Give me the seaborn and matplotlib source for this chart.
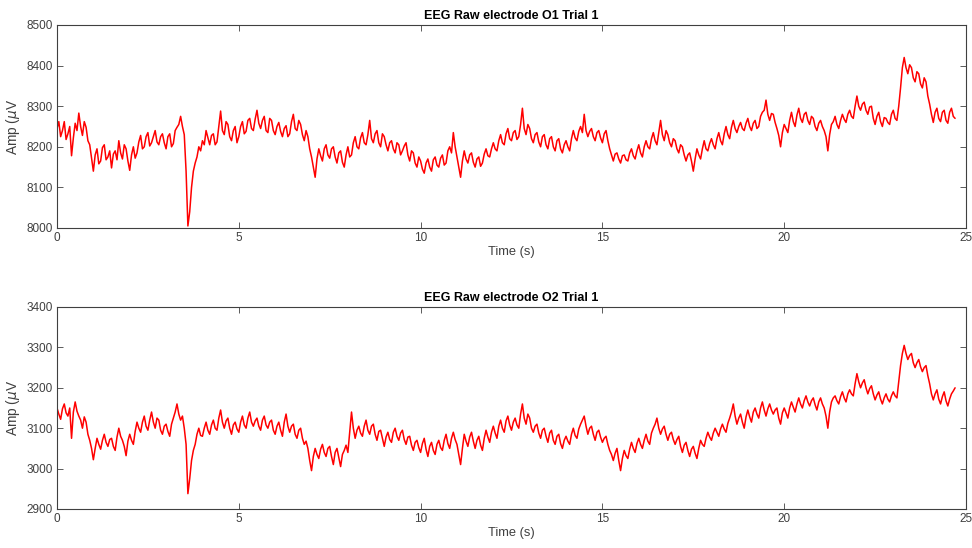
import numpy as np
import pandas as pd
import matplotlib
matplotlib.use("Agg")
import matplotlib.pyplot as plt
import seaborn as sns

# Time axes (s): samples on the 0.1 s grid and samples half-way between them
time_s = [round(i * 0.1, 1) for i in range(248)]
time_mid_s = [round(i * 0.1 + 0.05, 2) for i in range(247)]

# Electrode O1 amplitude (uV) on the 0.1 s grid
o1_amp = [
    8245, 8225, 8262, 8232, 8178, 8258, 8283, 8228, 8248, 8205,
    8140, 8195, 8165, 8205, 8175, 8148, 8190, 8215, 8170, 8195,
    8142, 8200, 8185, 8228, 8200, 8235, 8210, 8240, 8205, 8232,
    8195, 8232, 8208, 8248, 8275, 8230, 8005, 8100, 8160, 8200,
    8215, 8240, 8205, 8232, 8212, 8288, 8230, 8255, 8215, 8250,
    8225, 8262, 8238, 8270, 8240, 8290, 8245, 8275, 8235, 8265,
    8230, 8260, 8225, 8252, 8232, 8280, 8240, 8255, 8215, 8225,
    8175, 8125, 8195, 8165, 8205, 8172, 8200, 8160, 8190, 8150,
    8200, 8180, 8225, 8195, 8235, 8205, 8265, 8210, 8240, 8200,
    8225, 8190, 8215, 8185, 8205, 8190, 8210, 8165, 8185, 8150,
    8165, 8135, 8170, 8140, 8175, 8150, 8180, 8160, 8200, 8235,
    8175, 8125, 8190, 8160, 8185, 8150, 8175, 8160, 8195, 8175,
    8210, 8190, 8230, 8205, 8245, 8215, 8240, 8225, 8295, 8230,
    8245, 8210, 8235, 8200, 8230, 8195, 8225, 8190, 8220, 8185,
    8215, 8190, 8240, 8215, 8250, 8280, 8225, 8245, 8215, 8240,
    8210, 8240, 8195, 8165, 8185, 8160, 8180, 8165, 8195, 8170,
    8205, 8175, 8215, 8195, 8235, 8205, 8265, 8215, 8230, 8200,
    8215, 8185, 8200, 8165, 8185, 8140, 8195, 8170, 8215, 8190,
    8220, 8195, 8235, 8205, 8250, 8220, 8265, 8235, 8260, 8240,
    8270, 8240, 8265, 8250, 8285, 8315, 8265, 8280, 8245, 8200,
    8255, 8235, 8285, 8250, 8295, 8260, 8285, 8255, 8270, 8240,
    8265, 8240, 8190, 8255, 8275, 8245, 8280, 8260, 8290, 8270,
    8325, 8290, 8310, 8280, 8300, 8255, 8285, 8250, 8270, 8255,
    8290, 8265, 8345, 8420, 8380, 8395, 8360, 8380, 8345, 8360,
    8305, 8260, 8295, 8262, 8290, 8258, 8295, 8270,
]

# Electrode O1 amplitude (uV) half-way between grid samples
o1_amp_mid = [
    8262, 8240, 8218, 8250, 8222, 8240, 8250, 8262, 8215, 8172,
    8180, 8158, 8198, 8168, 8190, 8182, 8168, 8185, 8205, 8165,
    8180, 8172, 8212, 8195, 8225, 8202, 8225, 8212, 8225, 8210,
    8225, 8200, 8240, 8255, 8250, 8140, 8040, 8140, 8175, 8190,
    8205, 8222, 8228, 8205, 8250, 8240, 8262, 8225, 8240, 8210,
    8250, 8232, 8265, 8245, 8268, 8258, 8265, 8240, 8270, 8240,
    8250, 8238, 8245, 8225, 8262, 8245, 8265, 8230, 8240, 8195,
    8150, 8170, 8178, 8195, 8180, 8195, 8175, 8185, 8162, 8180,
    8175, 8210, 8200, 8222, 8210, 8230, 8220, 8232, 8210, 8232,
    8205, 8210, 8195, 8210, 8180, 8202, 8180, 8190, 8160, 8175,
    8145, 8160, 8150, 8168, 8155, 8172, 8155, 8190, 8185, 8200,
    8150, 8165, 8170, 8180, 8162, 8170, 8152, 8182, 8178, 8195,
    8195, 8215, 8210, 8232, 8220, 8235, 8218, 8255, 8245, 8255,
    8220, 8230, 8212, 8225, 8205, 8220, 8200, 8215, 8195, 8205,
    8200, 8220, 8222, 8238, 8235, 8240, 8238, 8225, 8235, 8222,
    8232, 8215, 8180, 8182, 8170, 8178, 8168, 8185, 8178, 8190,
    8185, 8200, 8200, 8220, 8215, 8235, 8230, 8240, 8210, 8220,
    8195, 8205, 8180, 8180, 8165, 8170, 8180, 8195, 8195, 8208,
    8205, 8220, 8215, 8232, 8230, 8248, 8245, 8250, 8245, 8258,
    8250, 8258, 8245, 8275, 8290, 8280, 8282, 8260, 8228, 8235,
    8245, 8265, 8262, 8278, 8270, 8280, 8265, 8275, 8250, 8258,
    8250, 8225, 8230, 8262, 8255, 8265, 8268, 8280, 8275, 8300,
    8300, 8305, 8290, 8298, 8270, 8275, 8262, 8272, 8260, 8280,
    8270, 8300, 8395, 8395, 8402, 8370, 8385, 8355, 8370, 8325,
    8280, 8285, 8270, 8285, 8265, 8285, 8275,
]

# Electrode O2 amplitude (uV) on the 0.1 s grid
o2_amp = [
    3150, 3122, 3160, 3130, 3075, 3165, 3130, 3100, 3115, 3070,
    3022, 3075, 3048, 3085, 3055, 3075, 3045, 3100, 3070, 3032,
    3085, 3060, 3115, 3090, 3130, 3095, 3140, 3100, 3120, 3085,
    3110, 3080, 3125, 3160, 3120, 3100, 2938, 3020, 3060, 3100,
    3080, 3115, 3085, 3120, 3095, 3145, 3100, 3125, 3085, 3115,
    3090, 3130, 3100, 3140, 3105, 3125, 3095, 3130, 3100, 3120,
    3085, 3115, 3080, 3135, 3090, 3110, 3075, 3100, 3060, 3050,
    2995, 3050, 3025, 3060, 3030, 3055, 3010, 3050, 3005, 3045,
    3040, 3140, 3075, 3105, 3080, 3120, 3085, 3110, 3070, 3095,
    3055, 3090, 3065, 3100, 3070, 3095, 3060, 3080, 3045, 3070,
    3040, 3075, 3030, 3065, 3035, 3070, 3045, 3085, 3050, 3090,
    3060, 3010, 3085, 3055, 3090, 3050, 3080, 3045, 3095, 3065,
    3105, 3075, 3120, 3090, 3130, 3095, 3125, 3100, 3160, 3110,
    3125, 3090, 3110, 3075, 3100, 3065, 3095, 3060, 3085, 3050,
    3080, 3060, 3100, 3075, 3110, 3130, 3085, 3105, 3070, 3095,
    3065, 3080, 3045, 3020, 3050, 2995, 3045, 3025, 3065, 3040,
    3075, 3050, 3085, 3060, 3100, 3125, 3085, 3105, 3070, 3090,
    3060, 3080, 3040, 3065, 3030, 3055, 3025, 3070, 3055, 3090,
    3070, 3100, 3080, 3110, 3090, 3125, 3160, 3110, 3135, 3100,
    3145, 3115, 3150, 3125, 3165, 3130, 3160, 3135, 3150, 3110,
    3150, 3125, 3165, 3140, 3175, 3150, 3180, 3155, 3175, 3145,
    3175, 3150, 3100, 3165, 3180, 3160, 3190, 3165, 3195, 3180,
    3235, 3200, 3220, 3185, 3205, 3170, 3190, 3160, 3185, 3165,
    3190, 3175, 3255, 3305, 3270, 3285, 3250, 3270, 3240, 3255,
    3210, 3170, 3195, 3160, 3190, 3155, 3185, 3200,
]

# Electrode O2 amplitude (uV) half-way between grid samples
o2_amp_mid = [
    3135, 3148, 3138, 3150, 3140, 3142, 3120, 3128, 3085, 3050,
    3050, 3060, 3070, 3065, 3072, 3055, 3078, 3080, 3055, 3068,
    3070, 3092, 3100, 3115, 3105, 3120, 3115, 3125, 3095, 3105,
    3092, 3110, 3140, 3135, 3130, 3060, 2975, 3045, 3085, 3082,
    3100, 3095, 3108, 3100, 3125, 3115, 3118, 3100, 3108, 3098,
    3115, 3108, 3125, 3115, 3118, 3105, 3120, 3108, 3115, 3095,
    3105, 3095, 3115, 3105, 3105, 3085, 3095, 3075, 3068, 3020,
    3030, 3035, 3048, 3040, 3050, 3030, 3040, 3028, 3035, 3058,
    3090, 3100, 3095, 3088, 3105, 3095, 3105, 3085, 3092, 3075,
    3078, 3072, 3090, 3080, 3088, 3072, 3078, 3058, 3065, 3052,
    3062, 3048, 3055, 3045, 3060, 3052, 3070, 3062, 3075, 3072,
    3035, 3050, 3068, 3078, 3068, 3070, 3058, 3075, 3078, 3090,
    3088, 3105, 3100, 3118, 3108, 3115, 3108, 3135, 3125, 3135,
    3100, 3105, 3088, 3095, 3080, 3088, 3070, 3080, 3062, 3070,
    3068, 3085, 3082, 3098, 3120, 3105, 3100, 3085, 3090, 3078,
    3075, 3060, 3035, 3038, 3020, 3025, 3032, 3048, 3050, 3062,
    3060, 3070, 3068, 3088, 3110, 3100, 3098, 3085, 3085, 3072,
    3072, 3055, 3058, 3045, 3048, 3038, 3050, 3060, 3075, 3078,
    3088, 3090, 3098, 3098, 3112, 3140, 3130, 3125, 3115, 3128,
    3128, 3140, 3135, 3150, 3145, 3148, 3145, 3145, 3125, 3138,
    3138, 3150, 3152, 3160, 3160, 3168, 3165, 3168, 3158, 3165,
    3160, 3130, 3140, 3175, 3168, 3178, 3175, 3185, 3185, 3210,
    3215, 3212, 3200, 3198, 3185, 3182, 3172, 3175, 3172, 3180,
    3180, 3215, 3285, 3285, 3280, 3262, 3262, 3252, 3250, 3230,
    3185, 3185, 3172, 3178, 3168, 3172, 3192,
]

titles = ["EEG Raw electrode O1 Trial 1", "EEG Raw electrode O2 Trial 1"]
x_ticks = [0, 5, 10, 15, 20, 25]
y_ticks_o1 = [8000, 8100, 8200, 8300, 8400, 8500]
y_ticks_o2 = [2900, 3000, 3100, 3200, 3300, 3400]

sns.set_style("white")
plt.rcParams["font.family"] = ["Liberation Sans", "DejaVu Sans"]

fig = plt.figure(figsize=(9.72, 5.48), dpi=100)
ax1 = fig.add_axes([57 / 972, 1 - 228 / 548, (966 - 57) / 972, (228 - 25) / 548])
ax2 = fig.add_axes([57 / 972, 1 - 509 / 548, (966 - 57) / 972, (509 - 307) / 548])

df1 = pd.DataFrame({"t": time_s + time_mid_s, "amp": o1_amp + o1_amp_mid}).sort_values("t")
df2 = pd.DataFrame({"t": time_s + time_mid_s, "amp": o2_amp + o2_amp_mid}).sort_values("t")

tick_col = "#404040"
for ax, df, title, yt in [(ax1, df1, titles[0], y_ticks_o1), (ax2, df2, titles[1], y_ticks_o2)]:
    sns.lineplot(data=df, x="t", y="amp", ax=ax, color="#ff0000", linewidth=1.1,
                 estimator=None, errorbar=None, sort=True)
    ax.set_xlim(0, 25)
    ax.set_ylim(yt[0], yt[-1])
    ax.set_xticks(x_ticks)
    ax.set_yticks(yt)
    ax.set_xticklabels([str(v) for v in x_ticks])
    ax.set_yticklabels([str(v) for v in yt])
    ax.tick_params(direction="in", length=4, width=0.6, colors=tick_col, labelsize=8.5,
                   top=True, right=True, bottom=True, left=True, pad=3)
    for sp in ax.spines.values():
        sp.set_visible(True)
        sp.set_color(tick_col)
        sp.set_linewidth(0.8)
    ax.set_title(title, fontsize=9, fontweight="bold", color="black", pad=4)
    ax.set_xlabel("Time (s)", fontsize=9.3, color=tick_col, labelpad=1)
    ax.set_ylabel("Amp ($\\mu$V", fontsize=9.8, color=tick_col, labelpad=3)
    ax.grid(False)

fig.savefig("out.png", dpi=100, facecolor="white")
